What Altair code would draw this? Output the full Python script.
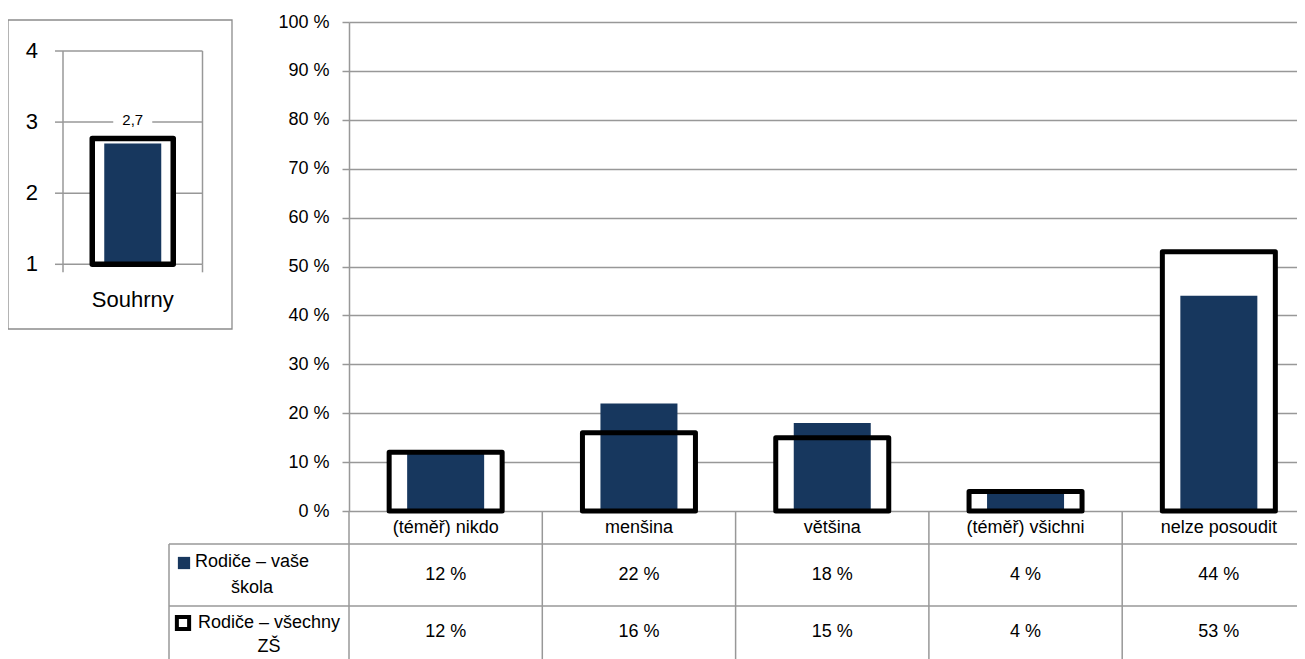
import altair as alt
import pandas as pd

# ---------------- data ----------------
categories = ["(téměř) nikdo", "menšina", "většina", "(téměř) všichni", "nelze posoudit"]
school = [12, 22, 18, 4, 44]          # Rodiče – vaše škola
all_zs = [12, 16, 15, 4, 53]          # Rodiče – všechny ZŠ
series_names = ["Rodiče – vaše\nškola", "Rodiče – všechny\nZŠ"]
y_ticks = [0, 10, 20, 30, 40, 50, 60, 70, 80, 90, 100]

summary_cat = ["Souhrny"]
summary_school = [2.7]
summary_all = [2.77]
summary_ticks = [1, 2, 3, 4]

# ---------------- styles ----------------
NAVY = "#17375E"
GRID = "#989898"
FONT = "Liberation Sans"

df = pd.DataFrame({"cat": categories, "school": school, "all": all_zs})
df["idx"] = list(range(len(categories)))
df["edge"] = df["idx"] - 0.5
df["school_lbl"] = df["school"].astype(str) + " %"
df["all_lbl"] = df["all"].astype(str) + " %"

sdf = pd.DataFrame({"cat": summary_cat, "v": summary_school, "a": summary_all, "pos": [0.5]})
sdf["lbl"] = sdf["v"].map(lambda v: f"{v:.1f}".replace(".", ","))
tdf = pd.DataFrame({"t": summary_ticks})
edf = pd.DataFrame({"e": [0, 1]})
one = pd.DataFrame({"k": [0]})

# ---------------- main chart ----------------
XS = alt.Scale(domain=[-0.5, len(categories) - 0.5], range=[0, 966.5],
               nice=False, zero=False, padding=0)
YS = alt.Scale(domain=[0, 100], nice=False, padding=0)
X = alt.X("idx:Q", scale=XS, axis=None)
YAX = alt.Axis(values=y_ticks, labelExpr="datum.value + ' %'",
               labelFont=FONT, labelFontSize=18, labelColor="black",
               labelPadding=13, tickSize=7, tickColor=GRID, tickWidth=1.5,
               domainColor=GRID, domainWidth=1.5, gridColor=GRID,
               gridWidth=1.5, grid=True, title=None)

base = alt.Chart(df)

white_bg = base.mark_bar(size=113, color="white").encode(
    x=X, y=alt.Y("all:Q", scale=YS, axis=YAX, title=None),
)
navy = base.mark_bar(size=77, color=NAVY).encode(
    x=X, y=alt.Y("school:Q", scale=YS, axis=YAX, title=None)
)
outline = base.mark_bar(size=113, fill="white", fillOpacity=0, stroke="black",
                        strokeWidth=5, strokeJoin="round").encode(
    x=X, y=alt.Y("all:Q", scale=YS, axis=YAX, title=None)
)

# table grid
vlines = base.mark_rule(color=GRID, strokeWidth=1.5).encode(
    x=alt.X("edge:Q", scale=XS, axis=None),
    y=alt.value(489), y2=alt.value(637),
)
h1 = alt.Chart(one).mark_rule(color=GRID, strokeWidth=1.5).encode(
    x=alt.value(-180), x2=alt.value(1000), y=alt.value(522))
h2 = alt.Chart(one).mark_rule(color=GRID, strokeWidth=1.5).encode(
    x=alt.value(-180), x2=alt.value(1000), y=alt.value(584))
vleft = alt.Chart(one).mark_rule(color=GRID, strokeWidth=1.5).encode(
    x=alt.value(-180), y=alt.value(522), y2=alt.value(637))

cat_text = base.mark_text(font=FONT, fontSize=18, baseline="middle").encode(
    x=X, y=alt.value(506), text="cat:N")
row1_text = base.mark_text(font=FONT, fontSize=18, baseline="middle").encode(
    x=X, y=alt.value(553), text="school_lbl:N")
row2_text = base.mark_text(font=FONT, fontSize=18, baseline="middle").encode(
    x=X, y=alt.value(610), text="all_lbl:N")

leg_df = pd.DataFrame({"name": series_names})
leg1 = alt.Chart(leg_df).transform_filter(alt.datum.name == series_names[0]).mark_text(
    font=FONT, fontSize=18, baseline="middle", lineBreak="\n", lineHeight=26
).encode(x=alt.value(-97), y=alt.value(540), text="name:N")
leg2 = alt.Chart(leg_df).transform_filter(alt.datum.name == series_names[1]).mark_text(
    font=FONT, fontSize=18, baseline="middle", lineBreak="\n", lineHeight=24
).encode(x=alt.value(-80), y=alt.value(601), text="name:N")
sym1 = alt.Chart(one).mark_point(shape="square", filled=True, color=NAVY, size=150, opacity=1).encode(
    x=alt.value(-165), y=alt.value(541))
sym2 = alt.Chart(one).mark_point(shape="square", filled=True, fill="white", stroke="black",
                                 strokeWidth=4, size=150, opacity=1).encode(
    x=alt.value(-166), y=alt.value(601))

frame = alt.Chart(one).mark_rect(fill="white", fillOpacity=0, stroke="#8c8c8c", strokeWidth=1.3).encode(
    x=alt.value(-341), x2=alt.value(-117), y=alt.value(-2), y2=alt.value(307))

main = alt.layer(white_bg, navy, outline, vlines, h1, h2, vleft,
                 cat_text, row1_text, row2_text, leg1, leg2, sym1, sym2, frame)

# ---------------- summary panel ----------------
LXS = alt.Scale(domain=[0, 1], range=[-286, -146.5], padding=0, nice=False)
LYS = alt.Scale(domain=[1, 4], range=[242.3, 29], padding=0, nice=False, zero=False)

grid_l = alt.Chart(tdf).mark_rule(color=GRID, strokeWidth=1.5).encode(
    x=alt.XDatum(0, type="quantitative", scale=LXS, axis=None), x2=alt.datum(1),
    y=alt.Y("t:Q", scale=LYS, axis=None))
ticks_l = alt.Chart(tdf).mark_rule(color=GRID, strokeWidth=1.5, xOffset=-8).encode(
    x=alt.XDatum(0, type="quantitative", scale=LXS, axis=None), x2=alt.datum(0),
    y=alt.Y("t:Q", scale=LYS, axis=None))
edges_l = alt.Chart(edf).mark_rule(color=GRID, strokeWidth=1.5).encode(
    x=alt.X("e:Q", scale=LXS, axis=None),
    y=alt.YDatum(1, type="quantitative", scale=LYS, axis=None), y2=alt.datum(4))
bticks_l = alt.Chart(edf).mark_rule(color=GRID, strokeWidth=1.5, y2Offset=8).encode(
    x=alt.X("e:Q", scale=LXS, axis=None),
    y=alt.YDatum(1, type="quantitative", scale=LYS, axis=None), y2=alt.datum(1))
labels_l = alt.Chart(tdf).mark_text(font=FONT, fontSize=22, align="right", baseline="middle", dx=-25).encode(
    x=alt.XDatum(0, type="quantitative", scale=LXS, axis=None),
    y=alt.Y("t:Q", scale=LYS, axis=None), text="t:Q")

sbase = alt.Chart(sdf)
SX = alt.X("pos:Q", scale=LXS, axis=None)
s_white = sbase.mark_bar(size=81, color="white").encode(
    x=SX, y=alt.Y("a:Q", scale=LYS, axis=None), y2=alt.datum(1))
s_navy = sbase.mark_bar(size=57, color=NAVY).encode(
    x=SX, y=alt.Y("v:Q", scale=LYS, axis=None), y2=alt.datum(1))
s_out = sbase.mark_bar(size=81, fill="white", fillOpacity=0, stroke="black",
                       strokeWidth=5.5, strokeJoin="round").encode(
    x=SX, y=alt.Y("a:Q", scale=LYS, axis=None), y2=alt.datum(1))
s_lblbg = sbase.mark_point(shape="M-1,-0.4L1,-0.4L1,0.4L-1,0.4Z", filled=True, color="white",
                           opacity=1, size=1521, yOffset=-23).encode(
    x=SX, y=alt.Y("v:Q", scale=LYS, axis=None))
s_lbl = sbase.mark_text(font=FONT, fontSize=15, baseline="middle", dy=-23).encode(
    x=SX, y=alt.Y("v:Q", scale=LYS, axis=None), text="lbl:N")
s_cat = sbase.mark_text(font=FONT, fontSize=22, baseline="middle", dy=36).encode(
    x=SX, y=alt.YDatum(1, type="quantitative", scale=LYS, axis=None), text="cat:N")

left = alt.layer(grid_l, ticks_l, edges_l, bticks_l, labels_l,
                 s_white, s_navy, s_out, s_lblbg, s_lbl, s_cat)

chart = alt.layer(main, left).resolve_scale(x="independent", y="independent").properties(
    width=948, height=489,
    padding={"left": 341, "top": 14, "right": 0, "bottom": 148},
    autosize=alt.AutoSizeParams(type="none"),
    background="white",
).configure_view(stroke=None)

chart.save("out.html", embed_options={"renderer": "svg", "actions": False})
